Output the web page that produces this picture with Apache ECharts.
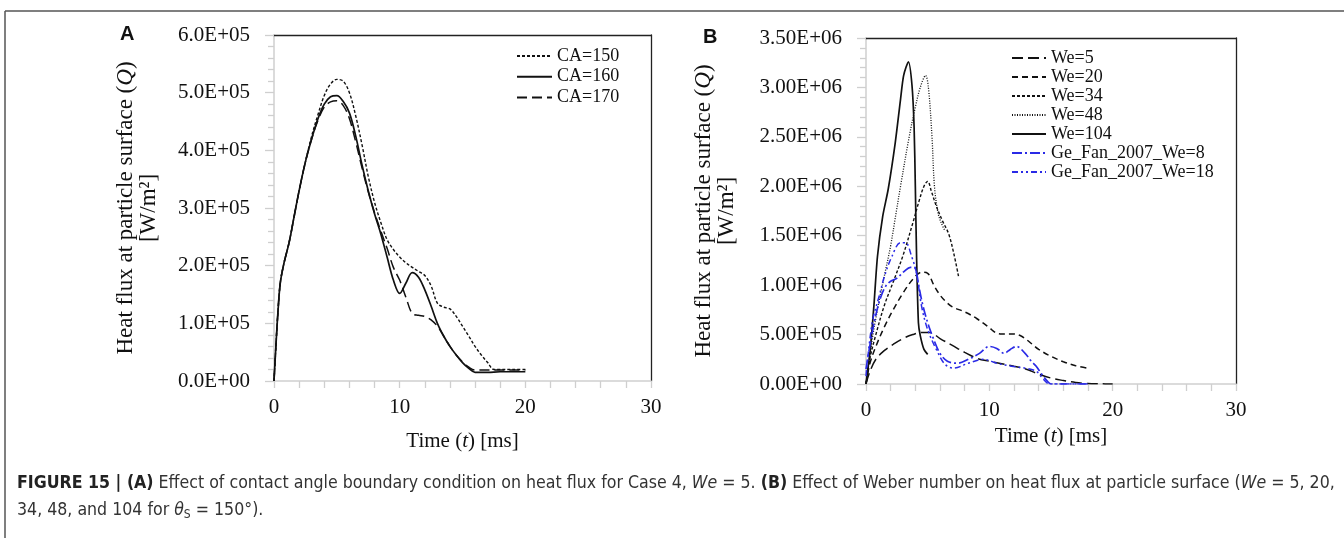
<!DOCTYPE html>
<html><head><meta charset="utf-8">
<script src="https://cdn.jsdelivr.net/npm/echarts/dist/echarts.min.js"></script>
<style>html,body{margin:0;padding:0;background:#fff;}#c{width:1344px;height:538px;}</style>
</head><body><div id="c"></div><script>
// ---------- tick labels ----------
var xTickLabels = ['0', '10', '20', '30'];
var yTickLabelsA = ['0.0E+00', '1.0E+05', '2.0E+05', '3.0E+05', '4.0E+05', '5.0E+05', '6.0E+05'];
var yTickLabelsB = ['0.00E+00', '5.00E+05', '1.00E+06', '1.50E+06', '2.00E+06', '2.50E+06', '3.00E+06', '3.50E+06'];

// ---------- Panel A (time in ms, heat flux in W/m2) ----------
var namesA = ['CA=150', 'CA=160', 'CA=170'];
var tA150 = [0, 0.15, 0.3, 0.5, 0.8, 1.2, 1.6, 2, 2.5, 3, 3.5, 4, 4.5, 5, 5.5, 6, 6.5, 7, 7.5, 8, 8.5, 9, 9.5, 10, 10.5, 11, 11.5, 12, 12.5, 13, 13.5, 14, 14.5, 15, 15.5, 16, 16.5, 17, 17.5, 18, 19, 20];
var qA150 = [0, 60000, 115000, 170000, 205000, 240000, 285000, 330000, 380000, 425000, 462000, 495000, 515000, 523000, 520000, 500000, 460000, 410000, 355000, 310000, 275000, 245000, 228000, 215000, 205000, 197000, 190000, 183000, 165000, 135000, 128000, 125000, 112000, 95000, 78000, 60000, 45000, 32000, 20000, 20000, 20000, 20000];
var tA160 = [0, 0.15, 0.3, 0.5, 0.8, 1.2, 1.6, 2, 2.5, 3, 3.5, 4, 4.5, 5, 5.5, 6, 6.5, 7, 7.5, 8, 8.5, 9, 9.5, 10, 10.5, 11, 11.5, 12, 12.5, 13, 13.5, 14, 14.5, 15, 15.5, 16, 17, 18, 19, 20];
var qA160 = [0, 60000, 115000, 170000, 205000, 240000, 285000, 330000, 380000, 420000, 455000, 480000, 493000, 495000, 485000, 465000, 425000, 375000, 330000, 290000, 255000, 215000, 175000, 152000, 170000, 188000, 180000, 158000, 130000, 100000, 78000, 60000, 45000, 32000, 22000, 15000, 15000, 16000, 16000, 16000];
var tA170 = [0, 0.15, 0.3, 0.5, 0.8, 1.2, 1.6, 2, 2.5, 3, 3.5, 4, 4.5, 5, 5.5, 6, 6.5, 7, 7.5, 8, 8.5, 9, 9.5, 10, 10.5, 11, 11.5, 12, 12.5, 13, 13.5, 14, 14.5, 15, 15.5, 16, 17, 18, 19, 20];
var qA170 = [0, 60000, 115000, 170000, 205000, 240000, 285000, 330000, 380000, 420000, 452000, 475000, 484000, 486000, 478000, 455000, 415000, 370000, 328000, 292000, 260000, 230000, 197000, 175000, 145000, 117000, 114000, 112000, 106000, 95000, 78000, 60000, 45000, 33000, 24000, 19000, 19000, 19000, 19000, 19000];

// ---------- Panel B ----------
var namesB = ['We=5', 'We=20', 'We=34', 'We=48', 'We=104', 'Ge_Fan_2007_We=8', 'Ge_Fan_2007_We=18'];
var tWe5 = [0, 0.3, 0.8, 1.5, 2.2, 3, 3.8, 4.5, 5.2, 6, 7, 8, 9, 10, 11, 12, 13, 14, 15, 16, 17, 18, 19, 20];
var qWe5 = [0, 120000, 250000, 340000, 400000, 460000, 500000, 520000, 520000, 460000, 390000, 320000, 260000, 230000, 205000, 180000, 150000, 100000, 60000, 35000, 15000, 5000, 2000, 0];
var tWe20 = [0, 0.3, 0.8, 1.5, 2.2, 3, 3.8, 4.5, 5, 5.5, 6, 6.5, 7, 8, 9, 10, 10.5, 11, 11.5, 12, 12.5, 13, 13.5, 14, 15, 16, 17, 18];
var qWe20 = [0, 200000, 380000, 580000, 750000, 920000, 1060000, 1130000, 1120000, 1000000, 900000, 830000, 780000, 730000, 660000, 570000, 520000, 505000, 505000, 505000, 490000, 450000, 400000, 350000, 280000, 225000, 185000, 160000];
var tWe34 = [0, 0.3, 0.8, 1.5, 2.2, 3, 3.8, 4.3, 4.7, 5, 5.3, 5.7, 6.2, 6.7, 7.1, 7.5];
var qWe34 = [0, 250000, 500000, 800000, 1030000, 1300000, 1630000, 1850000, 2000000, 2050000, 1950000, 1800000, 1650000, 1520000, 1330000, 1090000];
var tWe48 = [0, 0.5, 1, 1.5, 2, 2.4, 2.8, 3.5, 4, 4.4, 4.83, 5.06, 5.35, 5.55, 5.84, 6.1, 6.4];
var qWe48 = [0, 450000, 800000, 1100000, 1400000, 1700000, 2000000, 2500000, 2800000, 3000000, 3120000, 3000000, 2500000, 2000000, 1730000, 1630000, 1550000];
var tWe104 = [0, 0.2, 0.35, 0.64, 0.93, 1.36, 1.8, 2.37, 2.8, 3.05, 3.44, 3.73, 3.9, 4.0, 4.1, 4.25, 4.4, 4.7, 5.0];
var qWe104 = [0, 200000, 350000, 790000, 1290000, 1700000, 1970000, 2440000, 2880000, 3120000, 3260000, 3020000, 2600000, 2000000, 1290000, 620000, 490000, 350000, 300000];
var tGe8 = [0, 0.4, 0.8, 1.2, 1.6, 2.0, 2.5, 3.1, 3.6, 3.9, 4.1, 4.3, 4.6, 5.0, 5.4, 6.0, 6.6, 7.4, 8.3, 9.2, 10.0, 10.6, 11.2, 11.7, 12.2, 12.9, 13.4, 13.8, 14.3, 14.7, 15, 16, 17, 18];
var qGe8 = [150000, 450000, 700000, 880000, 990000, 1040000, 1070000, 1140000, 1180000, 1180000, 1120000, 980000, 800000, 620000, 480000, 310000, 230000, 210000, 250000, 310000, 380000, 360000, 310000, 350000, 380000, 310000, 230000, 180000, 90000, 30000, 0, 0, 0, 0];
var tGe18 = [0, 0.5, 1.07, 1.5, 2.1, 2.8, 3.2, 3.7, 4.1, 4.5, 5.0, 5.7, 6.4, 7.1, 8.3, 9.5, 10.6, 11.8, 12.9, 13.8, 14.3, 14.7, 15, 16, 17, 18];
var qGe18 = [80000, 620000, 890000, 1090000, 1290000, 1430000, 1430000, 1290000, 1120000, 790000, 550000, 350000, 200000, 160000, 210000, 250000, 210000, 180000, 160000, 130000, 60000, 10000, 0, 0, 0, 0];

function zip(t, q) { return t.map(function (v, i) { return [v, q[i]]; }); }

var serif = 'Liberation Serif';
var BLUE = '#2a2ae6';
var capFont = '"Liberation Sans Narrow", "DejaVu Sans Condensed", sans-serif';

function mkLine(name, t, q, xi, yi, color, dash, width, smooth) {
  return {
    name: name, type: 'line', xAxisIndex: xi, yAxisIndex: yi,
    data: zip(t, q), showSymbol: false, symbol: 'none', smooth: smooth == null ? 0.35 : smooth,
    lineStyle: { color: color, width: width || 1.4, type: dash },
    itemStyle: { color: color },
    animation: false, z: 3
  };
}

function valueXAxis(grid, nameGap) {
  return {
    type: 'value', gridIndex: grid, min: 0, max: 30, interval: 10, position: 'bottom',
    name: 'Time ({i|t}) [ms]', nameLocation: 'middle', nameGap: nameGap,
    nameTextStyle: { fontFamily: serif, fontSize: 21, color: '#111', rich: { i: { fontFamily: serif, fontSize: 21, fontStyle: 'italic', color: '#111' } } },
    axisLine: { show: true, onZero: false, lineStyle: { color: '#cfcfcf', width: 1.5 } },
    axisTick: { show: true, inside: false, length: 7, lineStyle: { color: '#cfcfcf', width: 1.3 } },
    minorTick: { show: true, splitNumber: 5, length: 7, lineStyle: { color: '#cfcfcf', width: 1.3 } },
    splitLine: { show: false },
    axisLabel: { fontFamily: serif, fontSize: 21, color: '#111', margin: 16,
      formatter: function (v) { return xTickLabels[Math.round(v / 10)]; } }
  };
}
function valueYAxis(grid, max, interval, labels, nameGap) {
  return {
    type: 'value', gridIndex: grid, min: 0, max: max, interval: interval, position: 'left',
    name: 'Heat flux at particle surface ({i|Q})\n[W/m²]', nameLocation: 'middle', nameGap: nameGap, nameRotate: 90,
    nameTextStyle: { fontFamily: serif, fontSize: 23, lineHeight: 23, color: '#111', align: 'center',
      rich: { i: { fontFamily: serif, fontSize: 23, fontStyle: 'italic', color: '#111' } } },
    axisLine: { show: true, onZero: false, lineStyle: { color: '#cfcfcf', width: 1.5 } },
    axisTick: { show: true, inside: false, length: 9, lineStyle: { color: '#cfcfcf', width: 1.3 } },
    minorTick: { show: true, splitNumber: 5, length: 6, lineStyle: { color: '#cfcfcf', width: 1.3 } },
    splitLine: { show: false },
    axisLabel: { fontFamily: serif, fontSize: 21, color: '#111', margin: 24,
      formatter: function (v) { return labels[Math.round(v / interval)]; } }
  };
}
function borderX(grid) {
  return { type: 'value', gridIndex: grid, position: 'top', min: 0, max: 1,
    axisLine: { show: true, onZero: false, lineStyle: { color: '#222', width: 1.3 } },
    axisTick: { show: false }, axisLabel: { show: false }, splitLine: { show: false } };
}
function borderY(grid) {
  return { type: 'value', gridIndex: grid, position: 'right', min: 0, max: 1,
    axisLine: { show: true, onZero: false, lineStyle: { color: '#222', width: 1.3 } },
    axisTick: { show: false }, axisLabel: { show: false }, splitLine: { show: false } };
}

var series = [
  mkLine('CA=150', tA150, qA150, 0, 0, '#111', [3, 2], 1.4),
  mkLine('CA=160', tA160, qA160, 0, 0, '#111', 'solid', 1.7),
  mkLine('CA=170', tA170, qA170, 0, 0, '#111', [10, 5], 1.5),
  mkLine('We=5', tWe5, qWe5, 2, 2, '#111', [11, 5], 1.5),
  mkLine('We=20', tWe20, qWe20, 2, 2, '#111', [6, 4], 1.5),
  mkLine('We=34', tWe34, qWe34, 2, 2, '#111', [3, 2], 1.4),
  mkLine('We=48', tWe48, qWe48, 2, 2, '#111', [1, 1.5], 1.3),
  mkLine('We=104', tWe104, qWe104, 2, 2, '#111', 'solid', 1.7, 0.25),
  mkLine('Ge_Fan_2007_We=8', tGe8, qGe8, 2, 2, BLUE, [10, 3, 2, 3], 1.7),
  mkLine('Ge_Fan_2007_We=18', tGe18, qGe18, 2, 2, BLUE, [6, 3, 2, 3, 2, 3], 1.5)
];

var legendText = { fontFamily: serif, fontSize: 18, color: '#111' };

var option = {
  backgroundColor: '#fff',
  animation: false,
  grid: [
    { left: 274, top: 35, width: 377, height: 346 },
    { left: 866, top: 38, width: 370, height: 346 }
  ],
  xAxis: [valueXAxis(0, 50), borderX(0), valueXAxis(1, 35), borderX(1)],
  yAxis: [valueYAxis(0, 600000, 100000, yTickLabelsA, 114), borderY(0), valueYAxis(1, 3500000, 500000, yTickLabelsB, 128), borderY(1)],
  legend: [
    { data: namesA, orient: 'vertical', left: 516, top: 47, padding: 0, itemWidth: 35, itemHeight: 14, itemGap: 2.7,
      textStyle: legendText, selectedMode: false, itemStyle: { opacity: 0 } },
    { data: namesB, orient: 'vertical', left: 1011, top: 49, padding: 0, itemWidth: 34, itemHeight: 14, itemGap: 1,
      textStyle: legendText, selectedMode: false, itemStyle: { opacity: 0 } }
  ],
  series: series,
  graphic: [
    { type: 'line', shape: { x1: 5, y1: 11, x2: 1344, y2: 11 }, style: { stroke: '#555', lineWidth: 1.5 } },
    { type: 'line', shape: { x1: 5, y1: 11, x2: 5, y2: 538 }, style: { stroke: '#555', lineWidth: 1.5 } },
    { type: 'text', left: 120, top: 24, style: { text: 'A', font: 'bold 20px "Liberation Sans", Arial, sans-serif', fill: '#111' } },
    { type: 'text', left: 703, top: 27, style: { text: 'B', font: 'bold 20px "Liberation Sans", Arial, sans-serif', fill: '#111' } },
    { type: 'text', left: 17, top: 474, style: {
        text: '{b|FIGURE 15 | (A)} Effect of contact angle boundary condition on heat flux for Case 4, {i|We} = 5. {b|(B)} Effect of Weber number on heat flux at particle surface ({i|We} = 5, 20,',
        font: '17.6px ' + capFont, fill: '#333',
        rich: { b: { font: 'bold 17.6px ' + capFont, fill: '#222' },
                i: { font: 'italic 17.6px ' + capFont, fill: '#333' } } } },
    { type: 'text', left: 17, top: 501, style: {
        text: '34, 48, and 104 for {i|θ}{s|S} = 150°).',
        font: '17.6px ' + capFont, fill: '#333',
        rich: { i: { font: 'italic 17.6px ' + capFont, fill: '#333' },
                s: { font: '12px ' + capFont, fill: '#333', padding: [9, 0, 0, 0] } } } }
  ]
};

var chart = echarts.init(document.getElementById('c'), null, { renderer: 'canvas' });
chart.setOption(option);
</script></body></html>
